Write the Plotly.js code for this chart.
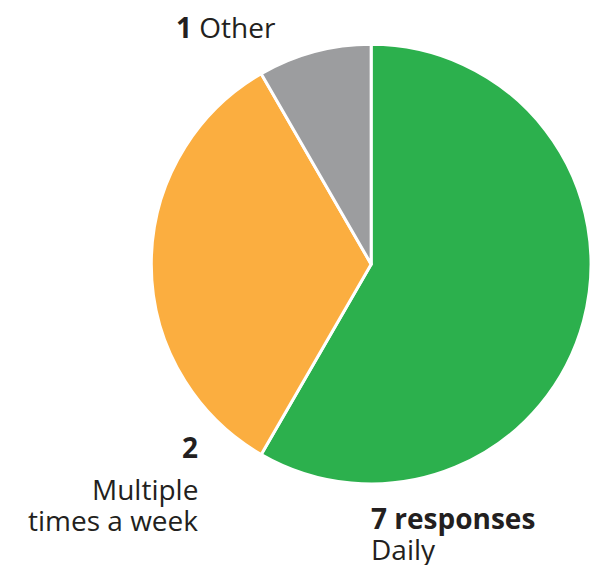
<!DOCTYPE html>
<html>
<head>
<meta charset="utf-8">
<script src="https://cdn.plot.ly/plotly-3.0.1.min.js"></script>
<style>html,body{margin:0;padding:0;background:#fff;}#chart{width:591px;height:565px;}</style>
</head>
<body>
<div id="chart"></div>
<script>
const categories = ['Daily', 'Multiple times a week', 'Other'];
const sliceShares = [7, 4, 1];
// Counts as printed in the labels
const countLabels = ['7 responses', '2', '1'];
const colors = ['#2cb04d', '#fbae40', '#9c9d9f'];

const FONT = '"Open Sans", "DejaVu Sans", sans-serif';
const INK = '#231f20';

const data = [{
  type: 'pie',
  labels: categories,
  values: sliceShares,
  sort: false,
  direction: 'clockwise',
  rotation: 0,
  textinfo: 'none',
  hoverinfo: 'label+value',
  marker: { colors: colors, line: { color: '#ffffff', width: 3 } },
  domain: { x: [0.256, 1.0], y: [0.143, 0.922] },
  showlegend: false
}];

const annotations = [
  // Other
  { x: 175, y: 27, xanchor: 'left', text: '<b>' + countLabels[2] + '</b> ' + categories[2] },
  // Multiple times a week
  { x: 199, y: 447, xanchor: 'right', text: '<b>' + countLabels[1] + '</b>' },
  { x: 199, y: 489, xanchor: 'right', text: categories[1].split(' ')[0] },
  { x: 199, y: 520, xanchor: 'right', text: categories[1].split(' ').slice(1).join(' ') },
  // Daily
  { x: 370, y: 518, xanchor: 'left', text: '<b>' + countLabels[0] + '</b>' },
  { x: 370, y: 549, xanchor: 'left', text: categories[0] }
].map(a => Object.assign({
  xref: 'paper', yref: 'paper', showarrow: false, yanchor: 'middle',
  borderpad: 0,
  font: { family: FONT, size: 28, color: INK }
}, a, { x: a.x / 591, y: 1 - a.y / 565 }));

const layout = {
  width: 591, height: 565,
  margin: { l: 0, r: 0, t: 0, b: 0 },
  paper_bgcolor: '#ffffff',
  plot_bgcolor: '#ffffff',
  annotations: annotations
};

Plotly.newPlot('chart', data, layout, { staticPlot: true, displayModeBar: false });
</script>
</body>
</html>
